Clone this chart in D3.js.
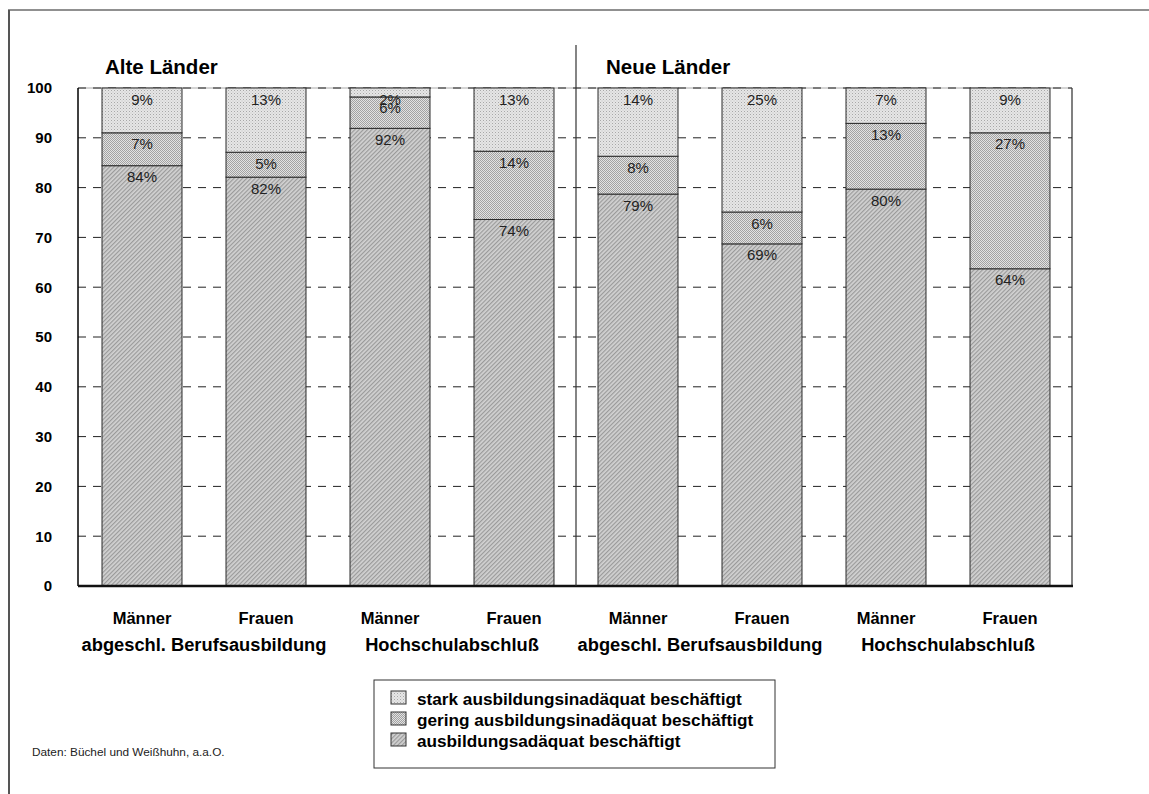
<!DOCTYPE html>
<html>
<head>
<meta charset="utf-8">
<script src="https://cdn.jsdelivr.net/npm/d3@7"></script>
<style>
  html, body { margin: 0; padding: 0; background: #fff; }
  svg { display: block; font-family: "Liberation Sans", Arial, sans-serif; }
</style>
</head>
<body>
<svg id="chart" width="1149" height="794"></svg>
<script>
// Erwerbstätige nach Adäquanz der Beschäftigung (Anteile in %)
const regions = ["Alte Länder", "Neue Länder"];
const genders = ["Männer", "Frauen", "Männer", "Frauen", "Männer", "Frauen", "Männer", "Frauen"];
const degrees = ["abgeschl. Berufsausbildung", "Hochschulabschluß", "abgeschl. Berufsausbildung", "Hochschulabschluß"];
const seriesNames = [
  "ausbildungsadäquat beschäftigt",
  "gering ausbildungsinadäquat beschäftigt",
  "stark ausbildungsinadäquat beschäftigt"
];
const adaequat = [84.4, 82.1, 91.9, 73.6, 78.7, 68.7, 79.7, 63.7];
const gering   = [6.6, 5.0, 6.3, 13.7, 7.6, 6.4, 13.2, 27.3];
const stark    = [9.0, 12.9, 1.8, 12.7, 13.7, 24.9, 7.1, 9.0];
const yTicks   = [0, 10, 20, 30, 40, 50, 60, 70, 80, 90, 100];
const source   = "Daten: Büchel und Weißhuhn, a.a.O.";

const svg = d3.select("#chart");
const plot = { left: 78, right: 1072, top: 88, bottom: 586 };

// hatch patterns for the three segments
const defs = svg.append("defs");
const pStark = defs.append("pattern").attr("id", "p-stark")
  .attr("width", 3).attr("height", 3).attr("patternUnits", "userSpaceOnUse");
pStark.append("rect").attr("width", 3).attr("height", 3).attr("fill", "#e6e6e6");
pStark.append("rect").attr("width", 1).attr("height", 1).attr("fill", "#a8a8a8");
pStark.append("rect").attr("x", 1.5).attr("y", 1.5).attr("width", 1).attr("height", 1).attr("fill", "#c4c4c4");

const pGering = defs.append("pattern").attr("id", "p-gering")
  .attr("width", 2).attr("height", 2).attr("patternUnits", "userSpaceOnUse");
pGering.append("rect").attr("width", 2).attr("height", 2).attr("fill", "#e2e2e2");
pGering.append("rect").attr("width", 1).attr("height", 1).attr("fill", "#a2a2a2");
pGering.append("rect").attr("x", 1).attr("y", 1).attr("width", 1).attr("height", 1).attr("fill", "#a2a2a2");

const pAdq = defs.append("pattern").attr("id", "p-adq")
  .attr("width", 3).attr("height", 3).attr("patternUnits", "userSpaceOnUse")
  .attr("patternTransform", "rotate(-45)");
pAdq.append("rect").attr("width", 3).attr("height", 3).attr("fill", "#d2d2d2");
pAdq.append("rect").attr("width", 3).attr("height", 1.2).attr("fill", "#9a9a9a");

const fills = { "ausbildungsadäquat beschäftigt": "url(#p-adq)",
                "gering ausbildungsinadäquat beschäftigt": "url(#p-gering)",
                "stark ausbildungsinadäquat beschäftigt": "url(#p-stark)" };

// outer frame
svg.append("line").attr("x1", 8).attr("x2", 1149).attr("y1", 10).attr("y2", 10)
  .attr("stroke", "#222").attr("stroke-width", 1.2);
svg.append("line").attr("x1", 9).attr("x2", 9).attr("y1", 10).attr("y2", 794)
  .attr("stroke", "#555").attr("stroke-width", 2);

// scales
const x = d3.scaleBand().domain(d3.range(genders.length))
  .range([80, plot.right]).paddingInner(0.355).paddingOuter(0.1775);
const y = d3.scaleLinear().domain([0, 100]).range([plot.bottom, plot.top]);

// plot frame (top and right in grey)
svg.append("line").attr("x1", plot.left).attr("x2", plot.right)
  .attr("y1", plot.top).attr("y2", plot.top).attr("stroke", "#aaa");
svg.append("line").attr("x1", plot.right).attr("x2", plot.right)
  .attr("y1", plot.top).attr("y2", plot.bottom).attr("stroke", "#808080").attr("stroke-width", 2);

// dashed grid
svg.append("g").selectAll("line").data(yTicks.filter(d => d > 0)).join("line")
  .attr("x1", plot.left).attr("x2", plot.right)
  .attr("y1", d => y(d)).attr("y2", d => y(d))
  .attr("stroke", "#222").attr("stroke-width", 1)
  .attr("stroke-dasharray", "8,7");

// stacked bars
const rows = genders.map((g, i) => ({
  i,
  [seriesNames[0]]: adaequat[i],
  [seriesNames[1]]: gering[i],
  [seriesNames[2]]: stark[i]
}));
const stacked = d3.stack().keys(seriesNames)(rows);

const layers = svg.append("g").selectAll("g").data(stacked).join("g")
  .attr("fill", s => fills[s.key]);
layers.selectAll("rect").data(s => s).join("rect")
  .attr("x", d => x(d.data.i))
  .attr("width", x.bandwidth())
  .attr("y", d => y(d[1]))
  .attr("height", d => y(d[0]) - y(d[1]))
  .attr("stroke", "#2a2a2a").attr("stroke-width", 1);

// value labels at the top of each segment
const labels = svg.append("g").attr("font-size", 15).attr("fill", "#222").attr("text-anchor", "middle");
stacked.forEach(s => {
  labels.selectAll(null).data(s).join("text")
    .attr("x", d => x(d.data.i) + x.bandwidth() / 2)
    .attr("y", d => y(d[1]) + 16.5)
    .text(d => Math.round(d[1] - d[0]) + "%");
});

// left axis line and baseline
svg.append("line").attr("x1", plot.left).attr("x2", plot.left)
  .attr("y1", plot.top).attr("y2", plot.bottom).attr("stroke", "#000").attr("stroke-width", 1.5);
svg.append("line").attr("x1", plot.left).attr("x2", plot.right + 1)
  .attr("y1", plot.bottom).attr("y2", plot.bottom).attr("stroke", "#111").attr("stroke-width", 2.5);

// y axis labels
const yAxis = svg.append("g").attr("transform", `translate(${plot.left},0)`)
  .call(d3.axisLeft(y).tickValues(yTicks).tickSize(0).tickPadding(26));
yAxis.select(".domain").remove();
yAxis.selectAll("text").attr("font-size", 15).attr("font-weight", "bold")
  .attr("font-family", "'Liberation Sans', Arial, sans-serif").attr("fill", "#000");

// divider between the two regions
const mid = (x(3) + x.bandwidth() + x(4)) / 2;
svg.append("line").attr("x1", mid).attr("x2", mid).attr("y1", 45).attr("y2", plot.bottom)
  .attr("stroke", "#333").attr("stroke-width", 1.2);

// region titles
svg.append("g").attr("font-size", 20.5).attr("font-weight", "bold").attr("fill", "#000")
  .selectAll("text").data(regions).join("text")
  .attr("x", (d, i) => x(i * 4) + (i === 0 ? 3 : 8))
  .attr("y", 74)
  .text(d => d);

// category labels
svg.append("g").attr("font-size", 16.5).attr("font-weight", "bold").attr("text-anchor", "middle")
  .selectAll("text").data(genders).join("text")
  .attr("x", (d, i) => x(i) + x.bandwidth() / 2)
  .attr("y", 624)
  .text(d => d);

svg.append("g").attr("font-size", 18.3).attr("font-weight", "bold").attr("text-anchor", "middle")
  .selectAll("text").data(degrees).join("text")
  .attr("x", (d, i) => (x(i * 2) + x(i * 2 + 1) + x.bandwidth()) / 2)
  .attr("y", 651)
  .text(d => d);

// legend
const legend = svg.append("g");
legend.append("rect").attr("x", 374).attr("y", 680).attr("width", 401).attr("height", 88)
  .attr("fill", "#fff").attr("stroke", "#333").attr("stroke-width", 1);
const legendOrder = [seriesNames[2], seriesNames[1], seriesNames[0]];
const li = legend.selectAll("g.item").data(legendOrder).join("g").attr("class", "item")
  .attr("transform", (d, i) => `translate(391,${705 + i * 21})`);
li.append("rect").attr("x", 0).attr("y", -14).attr("width", 15).attr("height", 13)
  .attr("fill", d => fills[d]).attr("stroke", "#333").attr("stroke-width", 1);
li.append("text").attr("x", 26).attr("y", 0)
  .attr("font-size", 17.2).attr("font-weight", "bold").attr("fill", "#000")
  .text(d => d);

// data source
svg.append("text").attr("x", 32).attr("y", 756).attr("font-size", 11.8).attr("fill", "#222")
  .text(source);
</script>
</body>
</html>
